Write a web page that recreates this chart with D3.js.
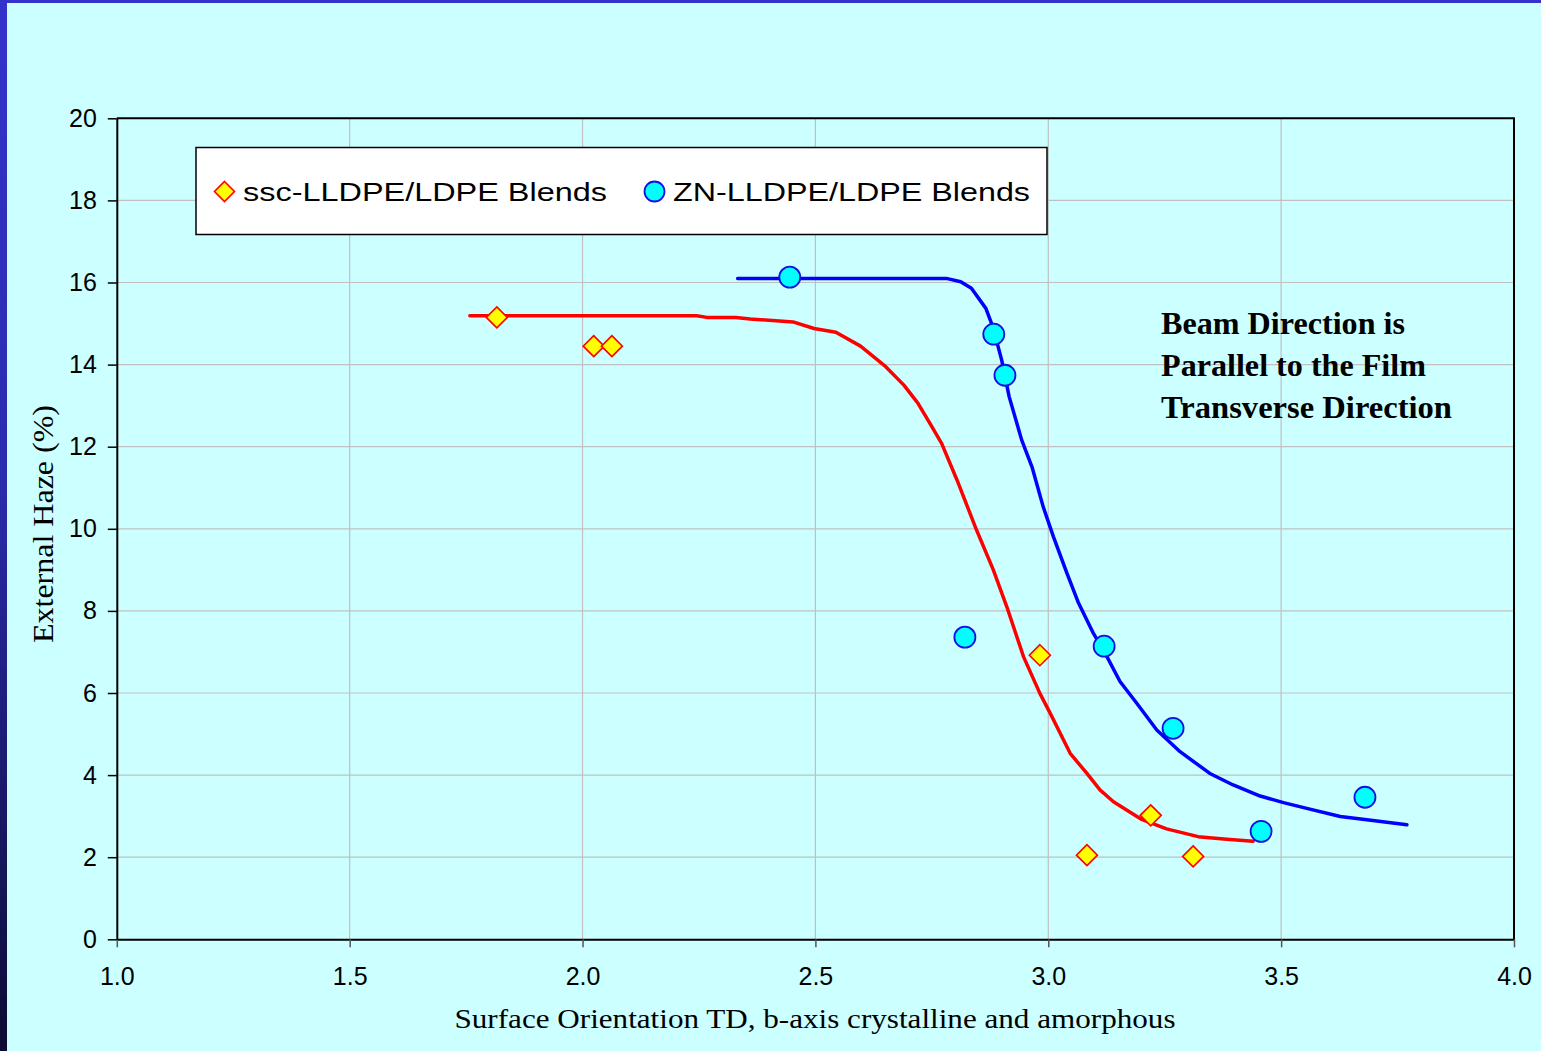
<!DOCTYPE html>
<html>
<head>
<meta charset="utf-8">
<script src="https://cdn.jsdelivr.net/npm/d3@7"></script>
<style>
  html, body { margin: 0; padding: 0; background: #CCFFFF; }
  svg { display: block; }
</style>
</head>
<body>
<svg id="chart" width="1541" height="1051"></svg>
<script>
// Measured samples: surface orientation (TD, b-axis) vs external haze (%)
const sscX = [1.816, 2.024, 2.063, 2.982, 3.083, 3.220, 3.311];
const sscY = [15.15, 14.45, 14.45, 6.92, 2.05, 3.02, 2.02];

const znX = [2.445, 2.883, 2.907, 2.821, 3.120, 3.268, 3.457, 3.680];
const znY = [16.13, 14.74, 13.74, 7.36, 7.14, 5.14, 2.63, 3.46];

// Hand-fitted trend curves for each blend family
const sscFitX = [1.758, 2.245, 2.267, 2.329, 2.360, 2.452, 2.497, 2.544, 2.597, 2.651, 2.690, 2.720,
  2.750, 2.771, 2.804, 2.846, 2.882, 2.911, 2.947, 2.982, 3.004, 3.047, 3.083, 3.111, 3.140, 3.199,
  3.254, 3.322, 3.383, 3.440];
const sscFitY = [15.19, 15.19, 15.15, 15.15, 15.11, 15.04, 14.88, 14.79, 14.45, 13.95, 13.50, 13.06,
  12.49, 12.08, 11.19, 9.97, 9.00, 8.10, 6.88, 5.99, 5.51, 4.53, 4.04, 3.64, 3.35, 2.93,
  2.69, 2.50, 2.44, 2.39];

const znFitX = [2.333, 2.781, 2.812, 2.835, 2.866, 2.881, 2.900, 2.916, 2.943, 2.965, 2.989, 3.011,
  3.040, 3.065, 3.097, 3.122, 3.154, 3.190, 3.233, 3.283, 3.347, 3.397, 3.455, 3.505, 3.555, 3.627,
  3.684, 3.770];
const znFitY = [16.10, 16.10, 16.02, 15.86, 15.37, 14.92, 14.11, 13.22, 12.16, 11.51, 10.54, 9.81,
  8.92, 8.19, 7.45, 6.97, 6.28, 5.75, 5.10, 4.57, 4.04, 3.76, 3.49, 3.33, 3.19, 2.99,
  2.91, 2.79];

const xTicks = [1.0, 1.5, 2.0, 2.5, 3.0, 3.5, 4.0];
const yTicks = [0, 2, 4, 6, 8, 10, 12, 14, 16, 18, 20];

const seriesNames = ["ssc-LLDPE/LDPE Blends", "ZN-LLDPE/LDPE Blends"];
const xTitle = "Surface Orientation TD, b-axis crystalline and amorphous";
const yTitle = "External Haze (%)";
const noteLines = ["Beam Direction is", "Parallel to the Film", "Transverse Direction"];

const svg = d3.select("#chart");
const W = 1541, H = 1051;

// Slide background with the blue frame bars
const defs = svg.append("defs");
const grad = defs.append("linearGradient").attr("id", "sideBar")
  .attr("x1", 0).attr("y1", 0).attr("x2", 0).attr("y2", 1);
grad.append("stop").attr("offset", "0%").attr("stop-color", "#3333CC");
grad.append("stop").attr("offset", "45%").attr("stop-color", "#2B2BAE");
grad.append("stop").attr("offset", "100%").attr("stop-color", "#0B0B33");

svg.append("rect").attr("width", W).attr("height", H).attr("fill", "#CCFFFF");
svg.append("rect").attr("x", 0).attr("y", 0).attr("width", W).attr("height", 3).attr("fill", "#3333CC");
svg.append("rect").attr("x", 0).attr("y", 0).attr("width", 7).attr("height", H).attr("fill", "url(#sideBar)");

const x = d3.scaleLinear().domain([1, 4]).range([116.8, 1514]);
const y = d3.scaleLinear().domain([0, 20]).range([939.3, 118.3]);

const plot = svg.append("g");

// Gridlines
plot.append("g").selectAll("line").data(xTicks.slice(1, -1)).join("line")
  .attr("x1", d => x(d)).attr("x2", d => x(d))
  .attr("y1", y(0)).attr("y2", y(20))
  .attr("stroke", "#C0C0C0").attr("stroke-width", 1.2);
plot.append("g").selectAll("line").data(yTicks.slice(1, -1)).join("line")
  .attr("x1", x(1)).attr("x2", x(4))
  .attr("y1", d => y(d)).attr("y2", d => y(d))
  .attr("stroke", "#C0C0C0").attr("stroke-width", 1.2);

// Axes
const fontSans = "'Liberation Sans', Arial, sans-serif";
const fontSerif = "'Liberation Serif', 'Times New Roman', serif";

const xAxis = d3.axisBottom(x).tickValues(xTicks).tickFormat(d3.format(".1f"))
  .tickSizeInner(8).tickSizeOuter(0).tickPadding(20);
const gx = plot.append("g").attr("transform", `translate(0,${y(0)})`).call(xAxis);
gx.select(".domain").attr("stroke", "#000").attr("stroke-width", 2);
gx.selectAll(".tick line").attr("stroke", "#555").attr("stroke-width", 1.5);
gx.selectAll(".tick text").attr("font-family", fontSans).attr("font-size", 25).attr("fill", "#000");

const yAxis = d3.axisLeft(y).tickValues(yTicks).tickFormat(d3.format("d"))
  .tickSizeInner(9).tickSizeOuter(0).tickPadding(11);
const gy = plot.append("g").attr("transform", `translate(${x(1)},0)`).call(yAxis);
gy.select(".domain").attr("stroke", "#000").attr("stroke-width", 2);
gy.selectAll(".tick line").attr("stroke", "#000").attr("stroke-width", 1.5);
gy.selectAll(".tick text").attr("font-family", fontSans).attr("font-size", 25).attr("fill", "#000");

// Top and right frame of the plot area
plot.append("path")
  .attr("d", `M${x(1)},${y(20)}H${x(4)}V${y(0)}`)
  .attr("fill", "none").attr("stroke", "#000").attr("stroke-width", 2);

// Trend curves
const line = d3.line().x(d => x(d[0])).y(d => y(d[1])).curve(d3.curveLinear);
plot.append("path").datum(d3.zip(sscFitX, sscFitY))
  .attr("d", line).attr("fill", "none")
  .attr("stroke", "#FF0000").attr("stroke-width", 3.5)
  .attr("stroke-linejoin", "round").attr("stroke-linecap", "round");
plot.append("path").datum(d3.zip(znFitX, znFitY))
  .attr("d", line).attr("fill", "none")
  .attr("stroke", "#0000FF").attr("stroke-width", 3.5)
  .attr("stroke-linejoin", "round").attr("stroke-linecap", "round");

// Markers
const diamond = (cx, cy, r) => `M${cx},${cy - r}L${cx + r},${cy}L${cx},${cy + r}L${cx - r},${cy}Z`;

plot.append("g").selectAll("circle").data(d3.zip(znX, znY)).join("circle")
  .attr("cx", d => x(d[0])).attr("cy", d => y(d[1])).attr("r", 10.5)
  .attr("fill", "#00FFFF").attr("stroke", "#1010E0").attr("stroke-width", 1.8);

plot.append("g").selectAll("path").data(d3.zip(sscX, sscY)).join("path")
  .attr("d", d => diamond(x(d[0]), y(d[1]), 10.5))
  .attr("fill", "#FFFF00").attr("stroke", "#FF0000").attr("stroke-width", 1.6);

// Legend
const lg = svg.append("g");
lg.append("rect").attr("x", 196).attr("y", 147.5).attr("width", 851).attr("height", 87)
  .attr("fill", "#FFFFFF").attr("stroke", "#000").attr("stroke-width", 1.5);
lg.append("path").attr("d", diamond(224.5, 191.5, 10))
  .attr("fill", "#FFFF00").attr("stroke", "#FF0000").attr("stroke-width", 1.6);
lg.append("circle").attr("cx", 654.5).attr("cy", 191.5).attr("r", 10)
  .attr("fill", "#00FFFF").attr("stroke", "#1010E0").attr("stroke-width", 1.8);
lg.append("text").attr("x", 243).attr("y", 200.5).text(seriesNames[0])
  .attr("font-family", fontSans).attr("font-size", 26)
  .attr("textLength", 364).attr("lengthAdjust", "spacingAndGlyphs");
lg.append("text").attr("x", 673).attr("y", 200.5).text(seriesNames[1])
  .attr("font-family", fontSans).attr("font-size", 26)
  .attr("textLength", 357).attr("lengthAdjust", "spacingAndGlyphs");

// Axis titles
svg.append("text").attr("x", 815).attr("y", 1028).attr("text-anchor", "middle")
  .attr("font-family", fontSerif).attr("font-size", 28).text(xTitle)
  .attr("textLength", 721).attr("lengthAdjust", "spacingAndGlyphs");
svg.append("text").attr("transform", "translate(53,524) rotate(-90)").attr("text-anchor", "middle")
  .attr("font-family", fontSerif).attr("font-size", 30).text(yTitle)
  .attr("textLength", 238).attr("lengthAdjust", "spacingAndGlyphs");

// Annotation
const noteWidths = [244, 265, 291];
const note = svg.append("text").attr("font-family", fontSerif).attr("font-weight", "bold")
  .attr("font-size", 31);
note.selectAll("tspan").data(noteLines).join("tspan")
  .attr("x", 1161).attr("y", (d, i) => 334 + i * 42)
  .attr("textLength", (d, i) => noteWidths[i]).attr("lengthAdjust", "spacingAndGlyphs")
  .text(d => d);
</script>
</body>
</html>
